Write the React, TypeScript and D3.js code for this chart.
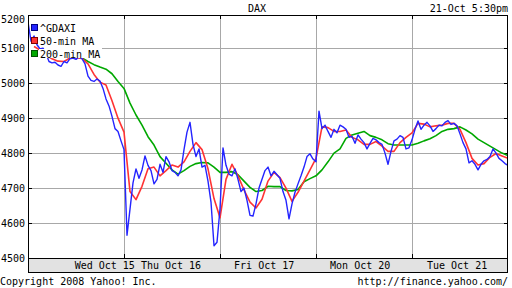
import React from "react";
import * as d3 from "d3";

const yTicks = [4500, 4600, 4700, 4800, 4900, 5000, 5100, 5200];
const dayLabels = ["Wed Oct 15", "Thu Oct 16", "Fri Oct 17", "Mon Oct 20", "Tue Oct 21"];
const dayLabelAt = [0.8, 1.49, 2.46, 3.46, 4.47];
const dayBounds = [1, 2, 3, 4];
const legendNames = ["^GDAXI", "50-min MA", "200-min MA"];

// ^GDAXI, 32 samples per trading day
const gdaxi = [
  5175, 5120, 5135, 5110, 5098, 5100, 5085, 5062, 5058, 5060, 5052, 5048, 5062, 5058, 5070, 5072,
  5068, 5075, 5070, 5055, 5020, 5008, 5005, 5012, 5006, 4985, 4955, 4935, 4905, 4870, 4862, 4835,
  4810, 4565, 4640, 4715, 4755, 4728, 4752, 4792, 4765, 4750, 4712, 4725, 4768, 4745, 4790, 4775,
  4750, 4745, 4735, 4752, 4810, 4860, 4888, 4825, 4790, 4812, 4760, 4765, 4720, 4660, 4535, 4545,
  4640, 4815, 4765, 4740, 4735, 4755, 4725, 4690, 4700, 4665, 4622, 4620, 4655, 4700, 4725, 4750,
  4760, 4735, 4748, 4738, 4728, 4690, 4665, 4612, 4655, 4688, 4712, 4735, 4760, 4790, 4798, 4783,
  4775, 4920, 4870, 4880, 4862, 4845, 4868, 4858, 4880, 4875, 4868, 4845, 4848, 4828, 4852, 4840,
  4830, 4812, 4828, 4842, 4838, 4830, 4825, 4800, 4768, 4805, 4835, 4840, 4850, 4845, 4812, 4815,
  4838, 4868, 4892, 4868, 4880, 4888, 4878, 4862, 4870, 4880, 4878, 4888, 4893, 4882, 4885, 4878,
  4855, 4830, 4812, 4772, 4778, 4768, 4752, 4768, 4778, 4782, 4790, 4812, 4800, 4785, 4778, 4770,
  4765,
];

// 50-min moving average, 16 samples per trading day
const ma50: (number | null)[] = [
  null, 5105, 5095, 5080, 5070, 5063, 5062, 5072, 5073, 5071, 5055, 5025, 5003, 4995, 4950, 4900,
  4860, 4690, 4667, 4705, 4755, 4760, 4735, 4750, 4766, 4760, 4775, 4805, 4830, 4810, 4755, 4670,
  4615, 4725, 4768, 4735, 4695, 4660, 4643, 4668, 4720, 4745, 4730, 4700, 4662, 4688, 4720, 4752,
  4785, 4875, 4873, 4862, 4862, 4866, 4845, 4838, 4825, 4825, 4833, 4820, 4805, 4805, 4830, 4845,
  4858, 4885, 4883, 4875, 4878, 4880, 4885, 4885, 4868, 4830, 4785, 4766, 4770, 4788, 4799, 4792,
  4785,
];

// 200-min moving average, 16 samples per trading day
const ma200: (number | null)[] = [
  null, null, null, null, null, null, null, 5082, 5077, 5072, 5062, 5053, 5046, 5040, 5027, 5005,
  4985, 4943, 4909, 4880, 4847, 4823, 4790, 4771, 4752, 4740, 4750, 4762, 4770, 4773, 4772, 4760,
  4745, 4745, 4747, 4738, 4720, 4702, 4690, 4693, 4705, 4704, 4704, 4693, 4692, 4696, 4718, 4727,
  4735, 4752, 4775, 4800, 4812, 4842, 4852, 4857, 4862, 4850, 4845, 4838, 4827, 4823, 4823, 4823,
  4823, 4828, 4835, 4841, 4850, 4862, 4868, 4870, 4875, 4866, 4855, 4840, 4830, 4820, 4810, 4800,
  4793,
];

const W = 512;
const H = 288;
const L = 28;
const R = 508;
const T = 15;
const B = 258;
const BAND = 272;
const FONT = "'DejaVu Sans Mono', monospace";

export default function App() {
  const x = d3.scaleLinear().domain([0, 5]).range([L, R]);
  const y = d3.scaleLinear().domain([4500, 5195]).range([B, T]);

  const mkLine = (perDay: number) =>
    d3
      .line<number | null>()
      .defined((d) => d != null)
      .x((_, i) => x(i / perDay))
      .y((d) => y(d as number));

  const blueLine = mkLine(32)(gdaxi) || "";
  const redLine = mkLine(16)(ma50) || "";
  const greenLine = mkLine(16)(ma200) || "";

  const colors = ["#2424ff", "#ff3333", "#00a800"];
  const swatchStroke = ["#000080", "#800000", "#005000"];

  return (
    <svg
      width={W}
      height={H}
      style={{ position: "absolute", left: 0, top: 0, background: "#fff" }}
      fontFamily={FONT}
      fontSize={10}
    >
      <rect x={0} y={0} width={W} height={H} fill="#fff" />
      <defs>
        <clipPath id="plot">
          <rect x={L} y={T} width={R - L} height={B - T} />
        </clipPath>
      </defs>
      {/* header */}
      <text x={257} y={12} textAnchor="middle" fill="#000">DAX</text>
      <text x={508} y={12} textAnchor="end" fill="#000">21-Oct 5:30pm</text>

      {/* horizontal gridlines */}
      {yTicks.filter((t) => y(t) > T + 1 && y(t) < B - 1).map((t) => (
        <g key={t}>
          <line x1={L} x2={R} y1={Math.round(y(t)) + 0.5} y2={Math.round(y(t)) + 0.5} stroke="#a8a8a8" />
          <line x1={L} x2={L + 4} y1={Math.round(y(t)) + 0.5} y2={Math.round(y(t)) + 0.5} stroke="#000" />
          <line x1={R - 4} x2={R} y1={Math.round(y(t)) + 0.5} y2={Math.round(y(t)) + 0.5} stroke="#000" />
        </g>
      ))}
      {/* vertical gridlines */}
      {dayBounds.map((d) => (
        <g key={d}>
          <line x1={Math.round(x(d)) + 0.5} x2={Math.round(x(d)) + 0.5} y1={T} y2={B} stroke="#a8a8a8" />
          <line x1={Math.round(x(d)) + 0.5} x2={Math.round(x(d)) + 0.5} y1={T} y2={T + 4} stroke="#000" />
          <line x1={Math.round(x(d)) + 0.5} x2={Math.round(x(d)) + 0.5} y1={B - 4} y2={B} stroke="#000" />
        </g>
      ))}
      {/* y labels */}
      {yTicks.map((t) => (
        <text key={t} x={25} y={Math.max(y(t), 19) + 4} textAnchor="end" fill="#000">
          {t}
        </text>
      ))}

      {/* legend background */}
      <rect x={L + 1} y={T + 1} width={73} height={44} fill="#fff" />

      {/* series */}
      <g clipPath="url(#plot)" fill="none" strokeWidth={1.6} strokeLinejoin="round">
        <path d={greenLine} stroke={colors[2]} />
        <path d={redLine} stroke={colors[1]} />
        <path d={blueLine} stroke={colors[0]} strokeWidth={1.4} />
      </g>

      {/* legend */}
      {legendNames.map((n, i) => (
        <g key={n}>
          <rect x={39} y={23 + i * 13} width={n.length * 6 + 2} height={9} fill="#fff" />
          <rect x={31.5} y={24.5 + i * 13} width={6} height={6} fill={colors[i]} stroke={swatchStroke[i]} />
          <text x={40} y={31.5 + i * 13} fill="#000">{n}</text>
        </g>
      ))}

      {/* frame */}
      <rect x={L + 0.5} y={T + 0.5} width={R - L - 1} height={B - T} fill="none" stroke="#000" />
      {/* x axis band */}
      <rect x={L + 0.5} y={B + 0.5} width={R - L - 1} height={BAND - B} fill="#e2e2e2" stroke="#000" />
      {dayLabels.map((lab, i) => (
        <text key={lab} x={x(dayLabelAt[i])} y={269} textAnchor="middle" fill="#000">
          {lab}
        </text>
      ))}

      {/* footer */}
      <text x={0} y={285} fill="#000">Copyright 2008 Yahoo! Inc.</text>
      <text x={508} y={285} textAnchor="end" fill="#000">http://finance.yahoo.com/</text>
    </svg>
  );
}
